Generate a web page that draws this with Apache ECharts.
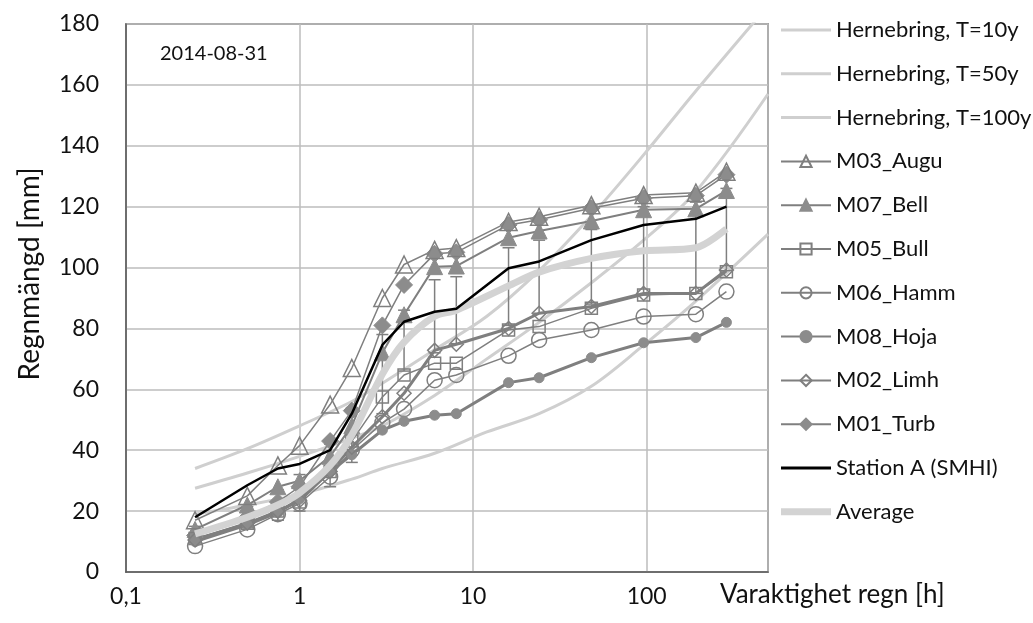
<!DOCTYPE html>
<html>
<head>
<meta charset="utf-8">
<script src="https://cdn.jsdelivr.net/npm/echarts@6/dist/echarts.min.js"></script>
<style>
html,body{margin:0;padding:0;background:#fff;}
#chart{width:1033px;height:623px;}
</style>
</head>
<body>
<div id="chart"></div>
<script>
// ---- data ----
const durations = [0.25, 0.5, 0.75, 1, 1.5, 2, 3, 4, 6, 8, 16, 24, 48, 96, 192, 288];
const m03Augu  = [17, 25, 35, 41.5, 55, 67, 90, 101, 105.8, 106.4, 115, 116.7, 120.5, 123.8, 124.6, 131.5];
const m07Bell  = [14, 22, 28, 30, 38, 48, 72, 84.5, 100.3, 100.5, 109.8, 112, 115.3, 119, 119.3, 125.3];
const m05Bull  = [11, 16, 20, 23, 33, 43, 57.5, 64.7, 68.6, 68.6, 79.5, 80.6, 86.6, 91, 91.5, 98.6];
const m06Hamm  = [8.5, 14, 19, 22.5, 31.3, 40, 49, 53.5, 63, 64.7, 71, 76.2, 79.5, 83.9, 84.7, 92.1];
const m08Hoja  = [10, 15.5, 19.5, 24, 33, 38.5, 46.6, 49.5, 51.5, 52, 62.2, 63.8, 70.4, 75.3, 77, 82];
const m02Limh  = [10.5, 16, 20, 23.5, 33, 41, 51, 58.7, 72.8, 74.8, 80, 85, 87.2, 91.5, 91.5, 99.2];
const m01Turb  = [12, 18, 23, 28, 43, 53, 81, 94.3, 104.5, 105, 114, 115.7, 119.5, 122.8, 123.6, 130.5];
const stationA = [18, 28.5, 34, 35.5, 40, 52, 74.6, 82.2, 85.5, 86.5, 99.8, 102, 109, 114, 116, 120];
const average  = [12.5, 18, 22, 26, 35, 45, 65, 75.5, 84, 86, 94, 98.5, 103, 105.5, 106.5, 112.7];
const errLow   = [10, 14.5, 17, 20, 28, 36, 52, 66, 72, 75, 81, 85, 88, 91, 91.5, 99];
const errHigh  = [15, 21.5, 27, 32, 42, 54, 78, 86, 96, 97, 106.5, 109, 112.5, 120, 121.5, 126];

const hernX   = [0.25, 0.5, 1, 2, 3, 6, 12, 24, 48, 96, 192, 500];
const hern10  = [19, 22, 25.5, 30.5, 34, 39, 46, 52, 61, 74.5, 89, 111];
const hern50  = [27.5, 32.5, 38, 44, 48, 58, 70, 82, 95, 109, 125, 157];
const hern100 = [34, 40.5, 48, 56, 62, 73, 84, 99, 117, 137, 158, 186];

const yTicks = [0, 20, 40, 60, 80, 100, 120, 140, 160, 180];
const dateLabel = '2014-08-31';
const xTitle = 'Varaktighet regn [h]';
const yTitle = 'Regnmängd [mm]';

// ---- helpers ----
const FONT = 'Lato';
const pair = (xs, ys) => xs.map((x, i) => [x, ys[i]]);
const GREY = '#7f7f7f';
const FILL = '#8c8c8c';
const HOLLOW = 'rgba(255,255,255,0)';
const barIcon = h => 'path://M0,0 L50,0 L50,' + h + ' L0,' + h + ' Z';

function mSeries(name, ys, symbol, size, filled, lw) {
  return {
    name, type: 'line', data: pair(durations, ys),
    symbol, symbolSize: size, showSymbol: true,
    lineStyle: { color: GREY, width: lw },
    itemStyle: filled ? { color: FILL, borderColor: FILL, borderWidth: 1 }
                      : { color: HOLLOW, borderColor: GREY, borderWidth: 1.5 },
    z: 3
  };
}
function hern(name, ys) {
  return {
    name, type: 'line', data: pair(hernX, ys), smooth: 0.35, symbol: 'none',
    lineStyle: { color: '#cfcfcf', width: 3 }, itemStyle: { color: '#cfcfcf' }, z: 1
  };
}

const chart = echarts.init(document.getElementById('chart'), null, { renderer: 'canvas' });
const option = {
  animation: false,
  backgroundColor: '#fff',
  textStyle: { fontFamily: FONT },
  grid: { left: 126, right: 265, top: 24, bottom: 51, show: true, borderColor: '#595959', borderWidth: 1.5 },
  legend: {
    orient: 'vertical', left: 775, top: 14,
    itemWidth: 50, itemHeight: 14, itemGap: 21.8, symbolKeepAspect: true,
    textStyle: { fontFamily: FONT, fontSize: 22, color: '#111', lineHeight: 22 },
    data: [
      { name: 'Hernebring, T=10y', icon: barIcon(3) },
      { name: 'Hernebring, T=50y', icon: barIcon(3) },
      { name: 'Hernebring, T=100y', icon: barIcon(3) },
      'M03_Augu', 'M07_Bell', 'M05_Bull', 'M06_Hamm', 'M08_Hoja', 'M02_Limh', 'M01_Turb',
      { name: 'Station A (SMHI)', icon: barIcon(3) },
      { name: 'Average', icon: barIcon(7) }
    ]
  },
  xAxis: {
    type: 'log', logBase: 10, min: 0.1, max: 500,
    axisLine: { show: true, lineStyle: { color: '#595959', width: 1.5 } },
    axisTick: { show: false }, minorTick: { show: false },
    splitLine: { show: true, lineStyle: { color: '#bdbdbd', width: 1.5 } },
    axisLabel: {
      margin: 13, fontSize: 23, color: '#111', fontFamily: FONT,
      formatter: v => {
        const l = Math.log10(v);
        if (Math.abs(l - Math.round(l)) > 1e-6) return '';
        const r = Math.round(l);
        return r < 0 ? String(Math.pow(10, r)).replace('.', ',') : String(Math.pow(10, r));
      }
    }
  },
  yAxis: {
    type: 'value', min: yTicks[0], max: yTicks[yTicks.length - 1], interval: yTicks[1] - yTicks[0],
    axisLine: { show: true, lineStyle: { color: '#595959', width: 1.5 } },
    axisTick: { show: false },
    splitLine: { show: true, lineStyle: { color: '#bdbdbd', width: 1.5 } },
    axisLabel: { margin: 27, fontSize: 23, color: '#111', fontFamily: FONT }
  },
  graphic: [
    { type: 'text', left: 160, top: 44, style: { text: dateLabel, fontSize: 20, fontFamily: FONT, fill: '#111' } },
    { type: 'text', left: 720, top: 582, style: { text: xTitle, fontSize: 26, fontFamily: FONT, fill: '#111' } },
    { type: 'text', x: 30, y: 274, rotation: Math.PI / 2,
      style: { text: yTitle, fontSize: 28, fontFamily: FONT, fill: '#111', align: 'center', verticalAlign: 'middle' } }
  ],
  series: [
    hern('Hernebring, T=10y', hern10),
    hern('Hernebring, T=50y', hern50),
    hern('Hernebring, T=100y', hern100),
    {
      name: 'errorbars', type: 'custom', z: 2,
      data: durations.map((x, i) => [x, errLow[i], errHigh[i]]),
      encode: { x: 0, y: [1, 2] },
      renderItem: (params, api) => {
        const x = api.value(0);
        const lo = api.coord([x, api.value(1)]);
        const hi = api.coord([x, api.value(2)]);
        const w = 6, st = { stroke: GREY, lineWidth: 1.5 };
        return { type: 'group', children: [
          { type: 'line', shape: { x1: lo[0], y1: lo[1], x2: hi[0], y2: hi[1] }, style: st },
          { type: 'line', shape: { x1: hi[0] - w, y1: hi[1], x2: hi[0] + w, y2: hi[1] }, style: st },
          { type: 'line', shape: { x1: lo[0] - w, y1: lo[1], x2: lo[0] + w, y2: lo[1] }, style: st }
        ] };
      }
    },
    mSeries('M01_Turb', m01Turb, 'diamond', 17, true, 1.5),
    mSeries('M07_Bell', m07Bell, 'triangle', 16, true, 2),
    mSeries('M03_Augu', m03Augu, 'triangle', 17, false, 1.5),
    mSeries('M05_Bull', m05Bull, 'rect', 12, false, 1.5),
    mSeries('M06_Hamm', m06Hamm, 'circle', 15, false, 1.5),
    mSeries('M08_Hoja', m08Hoja, 'circle', 10, true, 3),
    mSeries('M02_Limh', m02Limh, 'diamond', 14, false, 3),
    {
      name: 'Average', type: 'line', data: pair(durations, average), smooth: 0.3, symbol: 'none',
      lineStyle: { color: '#d3d3d3', width: 7 }, itemStyle: { color: '#d3d3d3' }, z: 4
    },
    {
      name: 'Station A (SMHI)', type: 'line', data: pair(durations, stationA), symbol: 'none',
      lineStyle: { color: '#000', width: 2.5 }, itemStyle: { color: '#000' }, z: 5
    }
  ]
};
chart.setOption(option);
</script>
</body>
</html>
